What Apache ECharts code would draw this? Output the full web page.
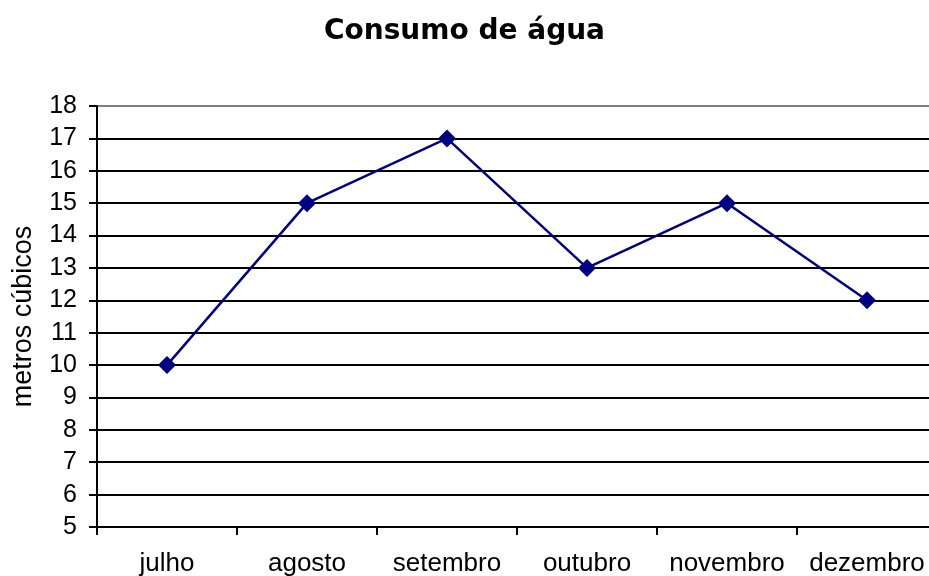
<!DOCTYPE html>
<html>
<head>
<meta charset="utf-8">
<script src="https://cdn.jsdelivr.net/npm/echarts@6/dist/echarts.min.js"></script>
<style>html,body{margin:0;padding:0;background:#fff}#c{width:929px;height:576px}</style>
</head>
<body>
<div id="c"></div>
<script>
const titleText = 'Consumo de água';
const yAxisName = 'metros cúbicos';
const categories = ['julho', 'agosto', 'setembro', 'outubro', 'novembro', 'dezembro'];
const consumo = [10, 15, 17, 13, 15, 12];
const yMin = 5, yMax = 18, yStep = 1;

const gridColors = [];
for (let v = yMin; v <= yMax; v += yStep) gridColors.push(v === yMax ? '#808080' : '#000000');

const chart = echarts.init(document.getElementById('c'), null, {renderer: 'canvas'});
chart.setOption({
  animation: false,
  backgroundColor: '#ffffff',
  title: {
    text: titleText,
    left: 'center',
    top: 13,
    textStyle: {fontFamily: 'DejaVu Sans', fontWeight: 'bold', fontSize: 28, color: '#000'}
  },
  grid: {left: 97, right: -8, top: 106, bottom: 49, containLabel: false, outerBoundsMode: 'none'},
  xAxis: {
    type: 'category',
    data: categories,
    boundaryGap: true,
    axisLine: {lineStyle: {color: '#000', width: 2}},
    axisTick: {show: true, inside: false, length: 8, alignWithLabel: false, lineStyle: {color: '#000', width: 2}},
    axisLabel: {margin: 24, fontFamily: 'Liberation Sans', fontSize: 26, color: '#000', interval: 0},
    splitLine: {show: false}
  },
  yAxis: {
    type: 'value',
    min: yMin, max: yMax, interval: yStep,
    name: yAxisName,
    nameLocation: 'middle',
    nameGap: 60,
    nameRotate: 90,
    nameTextStyle: {fontFamily: 'Liberation Sans', fontSize: 27, color: '#000'},
    axisLine: {show: true, lineStyle: {color: '#000', width: 2}},
    axisTick: {show: true, inside: false, length: 8, lineStyle: {color: '#000', width: 2}},
    axisLabel: {margin: 20, fontFamily: 'Liberation Sans', fontSize: 25, color: '#000'},
    splitLine: {show: true, lineStyle: {color: gridColors, width: 2}}
  },
  series: [{
    type: 'line',
    data: consumo,
    symbol: 'diamond',
    symbolSize: 18,
    lineStyle: {color: '#000080', width: 2.5},
    itemStyle: {color: '#000080'},
    z: 5
  }]
});
</script>
</body>
</html>
